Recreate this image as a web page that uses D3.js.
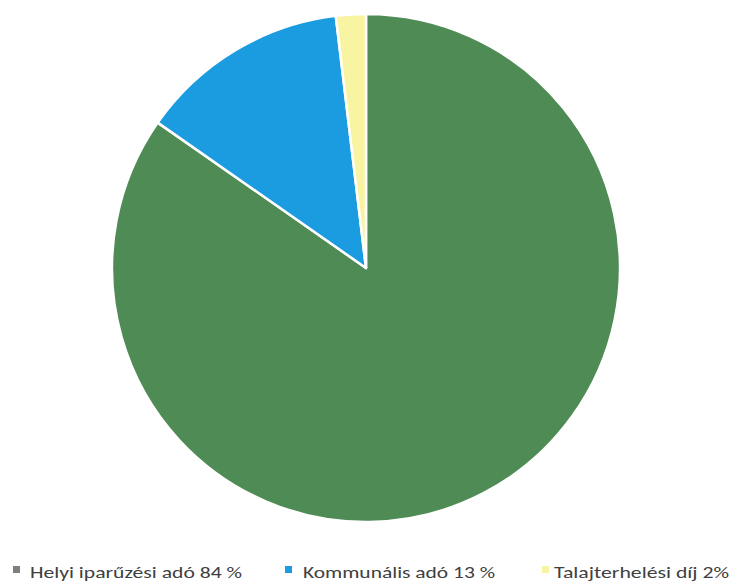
<!DOCTYPE html>
<html><head><meta charset="utf-8">
<script src="https://cdn.jsdelivr.net/npm/d3@7"></script>
<style>body{margin:0;background:#fff}</style>
</head><body>
<svg id="c" width="734" height="584"></svg>
<script>
const categories = ["Helyi iparűzési adó", "Kommunális adó", "Talajterhelési díj"];
const values = [84.7, 13.4, 1.9];
const legendLabels = ["Helyi iparűzési adó 84 %", "Kommunális adó 13 %", "Talajterhelési díj 2%"];
const sliceColors = ["#4f8b55", "#1b9be0", "#f8f4a2"];
const legendColors = ["#7f7f7f", "#1b9be0", "#f8f4a2"];

const svg = d3.select("#c");
const cx = 366, cy = 268, r = 254;
const pie = d3.pie().sort(null).value(d => d)(values);
const arc = d3.arc().innerRadius(0).outerRadius(r);
svg.append("g").attr("transform", `translate(${cx},${cy})`)
  .selectAll("path").data(pie).join("path")
  .attr("d", arc).attr("fill", (d, i) => sliceColors[i])
  .attr("stroke", "#fff").attr("stroke-width", 2.5).attr("stroke-linejoin", "round");

const legendX = [13, 285, 542];
const textEnd = [242, 495, 729];
const lg = svg.append("g");
legendLabels.forEach((t, i) => {
  lg.append("rect").attr("x", legendX[i]).attr("y", 566).attr("width", 7).attr("height", 7)
    .attr("fill", legendColors[i]);
  const tx = legendX[i] + (i === 0 ? 17 : i === 1 ? 18 : 12);
  lg.append("text").attr("x", tx).attr("y", 578)
    .attr("font-family", "Carlito, 'Open Sans', 'Liberation Sans', Arial, sans-serif").attr("font-size", 16)
    .attr("fill", "#404040")
    .attr("textLength", textEnd[i] - tx).attr("lengthAdjust", "spacingAndGlyphs")
    .text(t);
});
</script>
</body></html>
